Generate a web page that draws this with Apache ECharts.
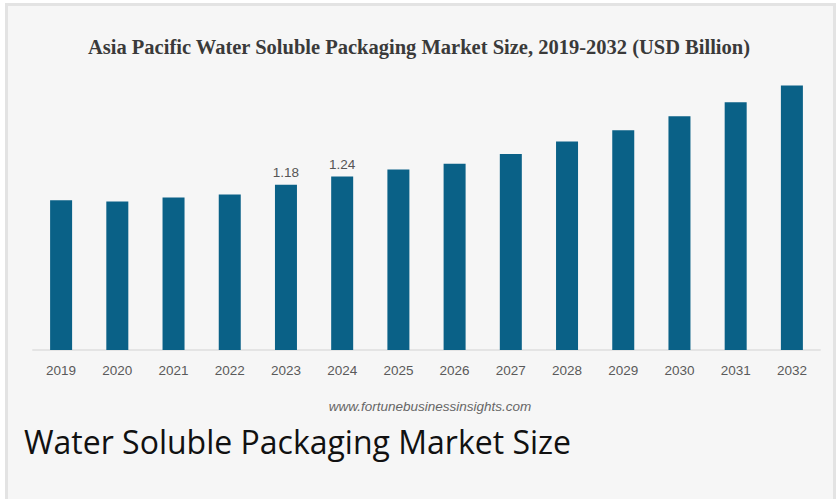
<!DOCTYPE html>
<html>
<head>
<meta charset="utf-8">
<script src="https://cdn.jsdelivr.net/npm/echarts@6/dist/echarts.min.js"></script>
<style>
  html, body { margin: 0; padding: 0; background: #ffffff; }
  #frame {
    position: absolute; left: 5px; top: 3px; width: 825px; height: 520px;
    background: #f6f6f6; border: 3px solid #e3e3e3;
  }
  #chart { position: absolute; left: 0; top: 0; width: 838px; height: 499px; }
</style>
</head>
<body>
<div id="frame"></div>
<div id="chart"></div>
<script>
const years = ['2019', '2020', '2021', '2022', '2023', '2024', '2025', '2026', '2027', '2028', '2029', '2030', '2031', '2032']
const marketSize = [1.07, 1.06, 1.09, 1.11, 1.18, 1.24, 1.29, 1.33, 1.40, 1.49, 1.57, 1.67, 1.77, 1.89]
// only these two bars carry a value label
const labelledYears = ['2023', '2024']

const chart = echarts.init(document.getElementById('chart'), null, { renderer: 'svg' })

const option = {
  backgroundColor: 'transparent',
  animation: false,
  title: [
    {
      text: 'Asia Pacific Water Soluble Packaging Market Size, 2019-2032 (USD Billion)',
      left: 'center',
      top: 31,
      textStyle: {
        fontFamily: 'Liberation Serif',
        fontWeight: 'bold',
        fontSize: 20.5,
        color: '#3a3a3a',
      },
    },
    {
      text: 'www.fortunebusinessinsights.com',
      left: 425,
      top: 394,
      textAlign: 'center',
      textStyle: {
        fontFamily: 'Liberation Sans',
        fontStyle: 'italic',
        fontWeight: 'normal',
        fontSize: 13.5,
        color: '#666666',
      },
    },
    {
      text: 'Water Soluble Packaging Market Size',
      left: 19,
      top: 420,
      textStyle: {
        fontFamily: 'Open Sans',
        fontWeight: 'normal',
        fontSize: 32,
        color: '#111111',
      },
    },
  ],
  grid: {
    left: 33,
    right: 18,
    top: 70,
    bottom: 149,
    containLabel: false,
  },
  xAxis: {
    type: 'category',
    data: years,
    axisLine: { lineStyle: { color: '#e4e4e4', width: 2 } },
    axisTick: { show: false },
    axisLabel: {
      color: '#5a5a5a',
      fontFamily: 'Liberation Sans',
      fontSize: 13.5,
      margin: 13,
    },
  },
  yAxis: {
    type: 'value',
    min: 0,
    max: 2,
    show: false,
    splitLine: { show: false },
  },
  series: [
    {
      type: 'bar',
      data: marketSize,
      barWidth: 22,
      itemStyle: { color: '#0a6187' },
      label: {
        show: true,
        position: 'top',
        distance: 5,
        color: '#555555',
        fontFamily: 'Liberation Sans',
        fontSize: 13.5,
        formatter: (p) => labelledYears.includes(p.name) ? p.value.toFixed(2) : '',
      },
    },
  ],
}

chart.setOption(option)
</script>
</body>
</html>
